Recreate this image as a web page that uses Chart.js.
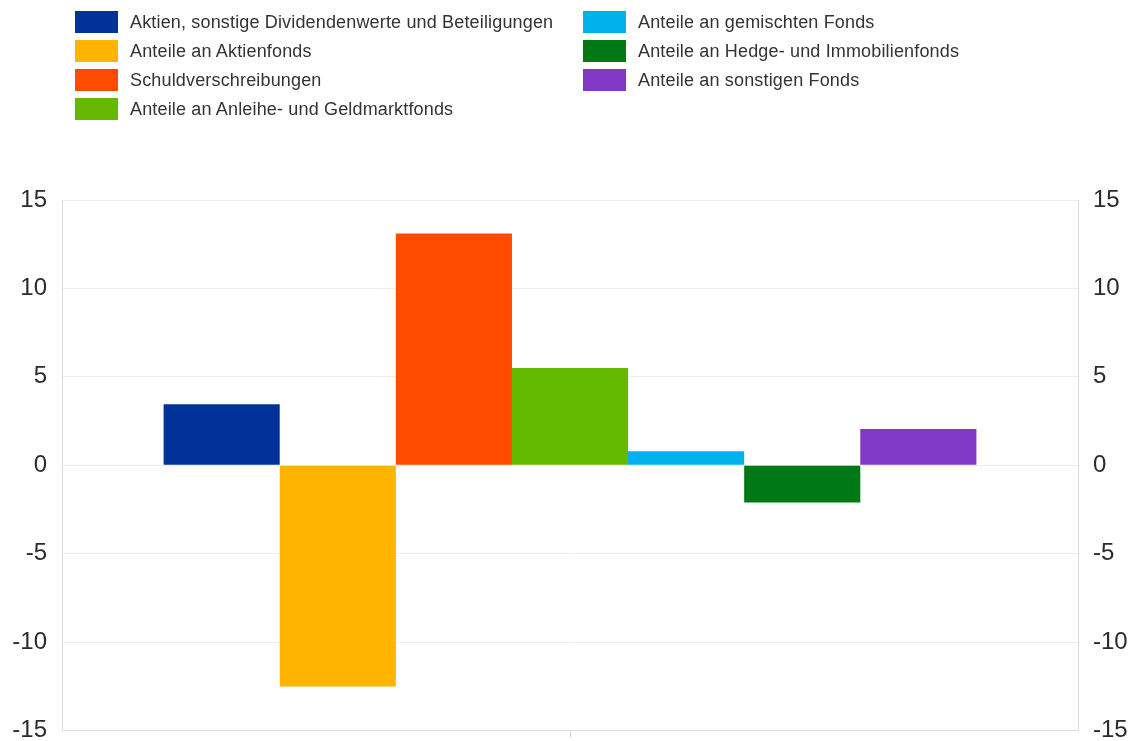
<!DOCTYPE html>
<html>
<head>
<meta charset="utf-8">
<script src="https://cdn.jsdelivr.net/npm/chart.js@4/dist/chart.umd.min.js"></script>
<style>
  html, body { margin: 0; padding: 0; background: #fff; overflow: hidden; }
  #wrap { position: relative; width: 1136px; height: 741px; overflow: hidden; }
  #legend { position: absolute; left: 0; top: 0; width: 1136px; height: 130px;
            font-family: "Liberation Sans", Arial, sans-serif; font-size: 18px; letter-spacing: 0.16px; color: #333; }
  .item { position: absolute; height: 22px; line-height: 22px; white-space: nowrap; }
  .box { position: absolute; left: 0; top: 0; width: 43px; height: 22px; }
  .txt { position: absolute; left: 55px; top: 0; }
</style>
</head>
<body>
<div id="wrap">
  <canvas id="chart" width="1136" height="760"></canvas>
  <div id="legend"></div>
</div>
<script>
var categories = [""];
var seriesNames = [
    "Aktien, sonstige Dividendenwerte und Beteiligungen",
    "Anteile an Aktienfonds",
    "Schuldverschreibungen",
    "Anteile an Anleihe- und Geldmarktfonds",
    "Anteile an gemischten Fonds",
    "Anteile an Hedge- und Immobilienfonds",
    "Anteile an sonstigen Fonds"
];
var seriesValues = [3.45, -12.5, 13.1, 5.5, 0.8, -2.1, 2.05];
var seriesColors = ["#003299", "#FFB400", "#FF4B00", "#65B800", "#00B1EA", "#007816", "#8139C6"];
var yTicks = [-15, -10, -5, 0, 5, 10, 15];

// legend in two columns, first four left, rest right
var legend = document.getElementById("legend");
seriesNames.forEach(function (name, i) {
    var col = i < 4 ? 0 : 1;
    var row = i < 4 ? i : i - 4;
    var el = document.createElement("div");
    el.className = "item";
    el.style.left = (col == 0 ? 75 : 583) + "px";
    el.style.top = (11 + row * 29) + "px";
    el.innerHTML = '<span class="box" style="background:' + seriesColors[i] + '"></span><span class="txt"></span>';
    el.querySelector(".txt").textContent = name;
    legend.appendChild(el);
});

var datasets = seriesNames.map(function (name, i) {
    return {
        label: name,
        data: [seriesValues[i]],
        backgroundColor: seriesColors[i],
        borderWidth: 0,
        yAxisID: "y"
    };
});

var tickFont = { family: "'Liberation Sans', Arial, sans-serif", size: 24 };

var ctx = document.getElementById("chart").getContext("2d");
var myChart = new Chart(ctx, {
    type: "bar",
    data: { labels: categories, datasets: datasets },
    options: {
        responsive: false,
        animation: false,
        layout: { padding: { top: 200, bottom: 0, left: 0, right: 0 } },
        plugins: { legend: { display: false }, tooltip: { enabled: false } },
        datasets: { bar: { barPercentage: 1, categoryPercentage: 0.8 } },
        scales: {
            x: {
                ticks: { display: false },
                grid: { drawOnChartArea: false, offset: false, tickLength: 7, color: "#d9d9d9" },
                border: { color: "#dcdcdc" },
                afterFit: function (s) { s.height = 11; }
            },
            y: {
                position: "left",
                min: -15, max: 15,
                afterBuildTicks: function (s) { s.ticks = yTicks.map(function (v) { return { value: v }; }); },
                ticks: { color: "#2b2b2b", font: tickFont, padding: 15 },
                grid: { color: "#ececec", drawTicks: false },
                border: { color: "#dcdcdc" },
                afterFit: function (s) { s.width = 62; }
            },
            y2: {
                position: "right",
                min: -15, max: 15,
                afterBuildTicks: function (s) { s.ticks = yTicks.map(function (v) { return { value: v }; }); },
                ticks: { color: "#2b2b2b", font: tickFont, padding: 15 },
                grid: { drawOnChartArea: false, drawTicks: false },
                border: { color: "#dcdcdc" },
                afterFit: function (s) { s.width = 58; }
            }
        }
    }
});
</script>
</body>
</html>
